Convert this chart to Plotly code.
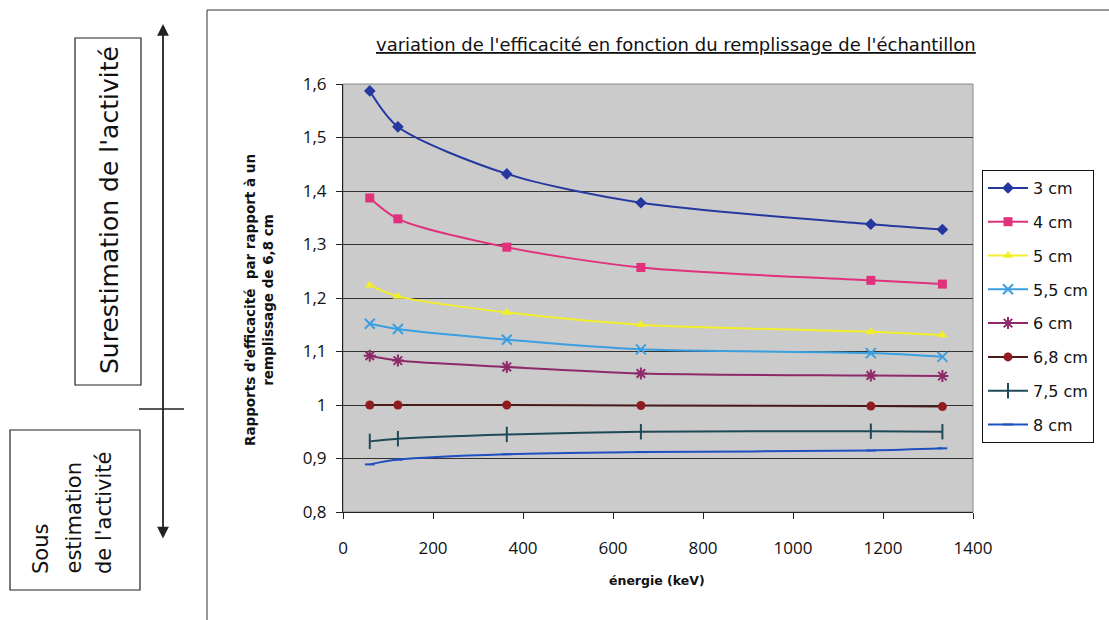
import plotly.graph_objects as go

energies = [59.5, 122, 364, 662, 1173, 1332]
series_names = ["3 cm", "4 cm", "5 cm", "5,5 cm", "6 cm", "6,8 cm", "7,5 cm", "8 cm"]
r_3 = [1.587, 1.520, 1.432, 1.378, 1.338, 1.328]
r_4 = [1.387, 1.348, 1.295, 1.257, 1.233, 1.226]
r_5 = [1.224, 1.203, 1.173, 1.150, 1.137, 1.131]
r_55 = [1.152, 1.142, 1.122, 1.104, 1.097, 1.090]
r_6 = [1.092, 1.083, 1.071, 1.059, 1.055, 1.054]
r_68 = [1.000, 1.000, 1.000, 0.999, 0.998, 0.997]
r_75 = [0.932, 0.937, 0.945, 0.950, 0.951, 0.950]
r_8 = [0.889, 0.898, 0.908, 0.912, 0.915, 0.919]
y_ticks = [0.8, 0.9, 1.0, 1.1, 1.2, 1.3, 1.4, 1.5, 1.6]
x_ticks = [0, 200, 400, 600, 800, 1000, 1200, 1400]

series = [r_3, r_4, r_5, r_55, r_6, r_68, r_75, r_8]
colors = ["#2438a0", "#e0317c", "#f2ee2a", "#3a9fe0", "#8e2a6a", "#8e1c20", "#1e4a58", "#2050c0"]
line_colors = ["#2438a0", "#e0317c", "#f2ee2a", "#3a9fe0", "#8e2a6a", "#4a1a1a", "#1e4a58", "#2050c0"]
symbols = ["diamond", "square", "triangle-up", "x-thin", "asterisk", "circle", "line-ns", "line-ew"]
sizes = [9, 9, 9, 10, 10, 9, 11, 7]

FONT = "Open Sans, DejaVu Sans, sans-serif"
DV = "DejaVu Sans, sans-serif"

fig = go.Figure()
for i, (name, ys) in enumerate(zip(series_names, series)):
    sym = symbols[i]
    open_like = sym in ("x-thin", "asterisk", "line-ns", "line-ew")
    fig.add_trace(go.Scatter(
        x=energies, y=ys, name=name, mode="lines+markers",
        line=dict(color=line_colors[i], width=2, shape="spline", smoothing=0.8),
        marker=dict(symbol=sym, size=sizes[i], color=colors[i],
                    line=dict(color=colors[i], width=2 if open_like else 0)),
        legendgroup=name,
    ))

W, H = 1109, 620
L, R, T, B = 343, 973, 84, 512

def px(x):
    return (x - L) / (R - L)

def py(y):
    return (B - y) / (B - T)

shapes = [
    # plot area border
    dict(type="rect", xref="paper", yref="paper", x0=0, x1=1, y0=0, y1=1,
         line=dict(color="#888", width=1), layer="below"),
    # chart frame
    dict(type="line", xref="paper", yref="paper", x0=px(207), x1=px(207), y0=py(620), y1=py(10),
         line=dict(color="#333", width=1)),
    dict(type="line", xref="paper", yref="paper", x0=px(207), x1=px(1109), y0=py(10), y1=py(10),
         line=dict(color="#333", width=1)),
    # Surestimation box
    dict(type="rect", xref="paper", yref="paper", x0=px(75), x1=px(141), y0=py(385), y1=py(38),
         line=dict(color="#222", width=1.2)),
    # Sous estimation box
    dict(type="rect", xref="paper", yref="paper", x0=px(10), x1=px(140), y0=py(590), y1=py(430),
         line=dict(color="#222", width=1.2)),
    # horizontal separator
    dict(type="line", xref="paper", yref="paper", x0=px(139), x1=px(184), y0=py(409), y1=py(409),
         line=dict(color="#222", width=1.5)),
]

annotations = [
    dict(text="<u>variation de l'efficacité en fonction du remplissage de l'échantillon</u>",
         xref="paper", yref="paper", x=px(676), y=py(45), showarrow=False,
         font=dict(size=18, color="#111", family=DV), xanchor="center", yanchor="middle"),
    dict(text="<b>Rapports d'efficacité  par rapport à un<br>remplissage de 6,8 cm</b>",
         xref="paper", yref="paper", x=px(259), y=py(300), showarrow=False, textangle=-90,
         font=dict(size=13.5, color="#111", family=DV), xanchor="center", yanchor="middle"),
    dict(text="<b>énergie (keV)</b>",
         xref="paper", yref="paper", x=px(657), y=py(580), showarrow=False,
         font=dict(size=12.5, color="#111", family=DV), xanchor="center", yanchor="middle"),
    dict(text="Surestimation de l'activité",
         xref="paper", yref="paper", x=px(109), y=py(210), showarrow=False, textangle=-90,
         font=dict(size=25, color="#111", family=DV), xanchor="center", yanchor="middle"),
    dict(text="Sous", xref="paper", yref="paper", x=px(41), y=py(576), showarrow=False,
         textangle=-90, font=dict(size=21, color="#111", family=DV),
         xanchor="center", yanchor="bottom"),
    dict(text="estimation", xref="paper", yref="paper", x=px(73), y=py(576), showarrow=False,
         textangle=-90, font=dict(size=21, color="#111", family=DV),
         xanchor="center", yanchor="bottom"),
    dict(text="de l'activité", xref="paper", yref="paper", x=px(104), y=py(576), showarrow=False,
         textangle=-90, font=dict(size=21, color="#111", family=DV),
         xanchor="center", yanchor="bottom"),
    # double arrow
    dict(text="", xref="paper", yref="paper", x=px(163), y=py(24),
         axref="pixel", ayref="pixel", ax=0, ay=540 - 24, showarrow=True,
         arrowhead=2, arrowsize=1.3, arrowwidth=1.8, arrowcolor="#222", arrowside="end+start"),
]

fig.update_layout(
    width=W, height=H,
    margin=dict(l=L, r=W - R, t=T, b=H - B),
    paper_bgcolor="white", plot_bgcolor="#cbcbcb",
    separators=", ",
    font=dict(family=FONT, color="#111"),
    showlegend=True,
    legend=dict(x=px(982), y=py(170), xanchor="left", yanchor="top",
                bgcolor="white", bordercolor="#111", borderwidth=1,
                font=dict(size=16, family=DV, color="#111"),
                traceorder="grouped", tracegroupgap=10, itemwidth=40),
    shapes=shapes, annotations=annotations,
    xaxis=dict(range=[0, 1400], tickvals=x_ticks, showgrid=False, zeroline=False,
               showline=True, linecolor="#222", linewidth=1.2, mirror=False,
               ticks="outside", ticklen=6, tickcolor="#222", ticklabelstandoff=14,
               tickfont=dict(size=17, family=FONT, color="#111")),
    yaxis=dict(range=[0.8, 1.6], tickvals=y_ticks, showgrid=True, gridcolor="#333", gridwidth=1,
               zeroline=False, showline=True, linecolor="#222", linewidth=1.2,
               ticks="outside", ticklen=6, tickcolor="#222", ticklabelstandoff=6,
               tickfont=dict(size=17, family=FONT, color="#111")),
)

fig.write_html("out.html")
